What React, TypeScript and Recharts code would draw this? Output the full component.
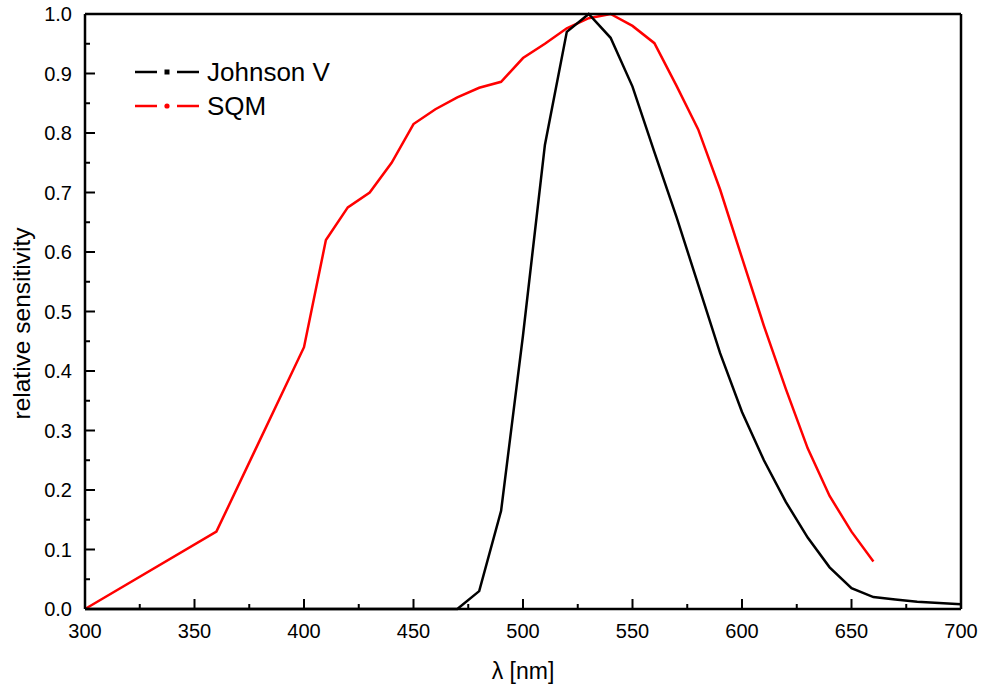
import React from "react";
import { LineChart, Line, XAxis, YAxis } from "recharts";

const johnsonWavelength = [300, 470, 480, 490, 500, 510, 520, 530, 540, 550, 560, 570, 580, 590, 600, 610, 620, 630, 640, 650, 660, 670, 680, 690, 700];
const johnsonValue = [0, 0, 0.03, 0.165, 0.46, 0.78, 0.97, 1.0, 0.96, 0.878, 0.768, 0.66, 0.545, 0.43, 0.331, 0.25, 0.18, 0.12, 0.07, 0.035, 0.02, 0.016, 0.012, 0.01, 0.008];

const sqmWavelength = [300, 360, 400, 410, 420, 430, 440, 450, 460, 470, 480, 490, 500, 510, 520, 530, 540, 550, 560, 570, 580, 590, 600, 610, 620, 630, 640, 650, 660];
const sqmValue = [0, 0.13, 0.44, 0.62, 0.675, 0.7, 0.75, 0.815, 0.84, 0.86, 0.876, 0.886, 0.926, 0.95, 0.976, 0.993, 1.0, 0.98, 0.951, 0.88, 0.806, 0.705, 0.59, 0.476, 0.37, 0.27, 0.19, 0.13, 0.08];

const xTicks = [300, 325, 350, 375, 400, 425, 450, 475, 500, 525, 550, 575, 600, 625, 650, 675, 700];
const xLabelStep = 50;
const yTicks = [0, 0.05, 0.1, 0.15, 0.2, 0.25, 0.3, 0.35, 0.4, 0.45, 0.5, 0.55, 0.6, 0.65, 0.7, 0.75, 0.8, 0.85, 0.9, 0.95, 1.0];

const seriesNames = ["Johnson V", "SQM"];
const seriesColors = ["#000000", "#ff0000"];
const xTitle = "λ [nm]";
const yTitle = "relative sensitivity";

const johnsonData = johnsonWavelength.map((w, i) => ({ w, v: johnsonValue[i] }));
const sqmData = sqmWavelength.map((w, i) => ({ w, v: sqmValue[i] }));

const FONT = "'Liberation Sans', Arial, Helvetica, sans-serif";
const MAJOR = 10;
const MINOR = 5;

const isMajorX = (v: number) => Math.round(v) % xLabelStep === 0;
const isMajorY = (v: number) => Math.round(v * 100) % 10 === 0;

const BottomTick = (props: any) => {
  const { x, y, payload } = props;
  const v = payload.value;
  const major = isMajorX(v);
  return (
    <g>
      <line x1={x} x2={x} y1={y} y2={y - (major ? MAJOR : MINOR)} stroke="#000" strokeWidth={2} />
      {major && (
        <text x={x} y={y + 29} textAnchor="middle" fontSize={20} fontFamily={FONT} fill="#000">
          {v}
        </text>
      )}
    </g>
  );
};

const TopTick = (props: any) => {
  const { x, y, payload } = props;
  const major = isMajorX(payload.value);
  return <line x1={x} x2={x} y1={y} y2={y + (major ? MAJOR : MINOR)} stroke="#000" strokeWidth={2} />;
};

const LeftTick = (props: any) => {
  const { x, y, payload } = props;
  const v = payload.value;
  const major = isMajorY(v);
  return (
    <g>
      <line x1={x} x2={x + (major ? MAJOR : MINOR)} y1={y} y2={y} stroke="#000" strokeWidth={2} />
      {major && (
        <text x={x - 13} y={y + 7} textAnchor="end" fontSize={20} fontFamily={FONT} fill="#000">
          {v.toFixed(1)}
        </text>
      )}
    </g>
  );
};

const RightTick = (props: any) => {
  const { x, y, payload } = props;
  const major = isMajorY(payload.value);
  return <line x1={x} x2={x - (major ? MAJOR : MINOR)} y1={y} y2={y} stroke="#000" strokeWidth={2} />;
};

const YTitle = (props: any) => {
  const vb = props.viewBox || { x: 0, y: 14, width: 85, height: 595 };
  const cx = 21;
  const cy = vb.y + vb.height / 2 + 12;
  return (
    <text
      x={cx}
      y={cy}
      transform={`rotate(-90 ${cx} ${cy})`}
      textAnchor="middle"
      dominantBaseline="central"
      fontSize={24.5}
      fontFamily={FONT}
      fill="#000"
    >
      {yTitle}
    </text>
  );
};

const LegendIcon = ({ color, square }: { color: string; square: boolean }) => (
  <svg width={66} height={10} style={{ display: "block" }}>
    <line x1={0} x2={22} y1={5} y2={5} stroke={color} strokeWidth={2.5} />
    {square ? (
      <rect x={29.5} y={2.5} width={5} height={5} fill={color} />
    ) : (
      <circle cx={32} cy={5} r={2.6} fill={color} />
    )}
    <line x1={42} x2={64} y1={5} y2={5} stroke={color} strokeWidth={2.5} />
  </svg>
);

export default function App() {
  const axisLine = { stroke: "#000", strokeWidth: 2.5 };
  return (
    <div style={{ position: "absolute", left: 0, top: 0, width: 982, height: 687, background: "#fff" }}>
      <LineChart width={982} height={687} margin={{ top: 0, right: 0, bottom: 0, left: 0 }}>
        <XAxis
          xAxisId="b"
          dataKey="w"
          type="number"
          domain={[300, 700]}
          ticks={xTicks}
          interval={0}
          orientation="bottom"
          height={78}
          tickSize={0}
          tickMargin={0}
          tickLine={false}
          axisLine={axisLine}
          tick={BottomTick}
          allowDuplicatedCategory={false}
          label={{ value: xTitle, position: "insideBottom", offset: 8, fontSize: 23, fontFamily: FONT, fill: "#000" }}
        />
        <XAxis
          xAxisId="t"
          type="number"
          domain={[300, 700]}
          ticks={xTicks}
          interval={0}
          orientation="top"
          height={14}
          tickSize={0}
          tickMargin={0}
          tickLine={false}
          axisLine={axisLine}
          tick={TopTick}
        />
        <YAxis
          yAxisId="l"
          type="number"
          domain={[0, 1]}
          ticks={yTicks}
          interval={0}
          orientation="left"
          width={85}
          tickSize={0}
          tickMargin={0}
          tickLine={false}
          axisLine={axisLine}
          tick={LeftTick}
          label={<YTitle />}
        />
        <YAxis
          yAxisId="r"
          type="number"
          domain={[0, 1]}
          ticks={yTicks}
          interval={0}
          orientation="right"
          width={21}
          tickSize={0}
          tickMargin={0}
          tickLine={false}
          axisLine={axisLine}
          tick={RightTick}
        />
        <Line
          xAxisId="b"
          yAxisId="l"
          data={sqmData}
          dataKey="v"
          name={seriesNames[1]}
          type="linear"
          stroke={seriesColors[1]}
          strokeWidth={2.5}
          dot={false}
          isAnimationActive={false}
        />
        <Line
          xAxisId="b"
          yAxisId="l"
          data={johnsonData}
          dataKey="v"
          name={seriesNames[0]}
          type="linear"
          stroke={seriesColors[0]}
          strokeWidth={2.5}
          dot={false}
          isAnimationActive={false}
        />
      </LineChart>
      <div style={{ position: "absolute", left: 135, top: 55, fontFamily: FONT, fontSize: 26, color: "#000", lineHeight: "34px" }}>
        {seriesNames.map((n, i) => (
          <div key={n} style={{ display: "flex", alignItems: "center", height: 34 }}>
            <LegendIcon color={seriesColors[i]} square={i === 0} />
            <span style={{ marginLeft: 6 }}>{n}</span>
          </div>
        ))}
      </div>
    </div>
  );
}
